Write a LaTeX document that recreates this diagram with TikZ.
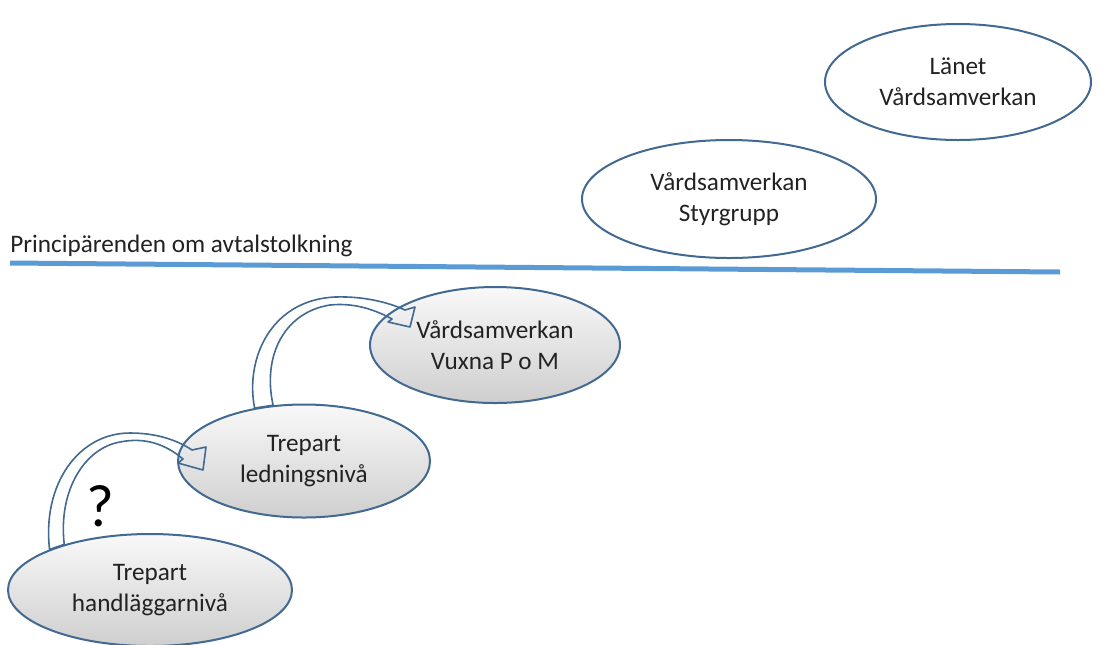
\documentclass[tikz,border=0pt]{standalone}
\usepackage{fontspec}
\setmainfont{Carlito}
\usetikzlibrary{shapes.geometric}
\definecolor{unitblue}{RGB}{65,105,145}
\definecolor{lineblue}{RGB}{91,155,213}
\definecolor{textgray}{RGB}{34,34,34}
\newcommand{\unitfont}{\fontsize{12.6}{15.5}\selectfont}
\tikzstyle{unit}=[ellipse, draw=unitblue, line width=1pt, inner sep=0, align=center,
                  text=textgray, font=\unitfont]
\tikzstyle{greyunit}=[unit, top color=gray!5, bottom color=gray!38]
\tikzstyle{bentarrow}=[draw=unitblue, line width=0.8pt, line join=round]
\tikzstyle{divider}=[draw=lineblue, line width=2.5pt]
\tikzstyle{levels}=[x=0.5pt, y=-0.5pt,
                    % pixel grid of the page
                    execute at begin picture={\useasboundingbox (0,0) rectangle (1119,644);}]
\begin{document}
\begin{tikzpicture}[levels]
        \node[unit, minimum width=133pt, minimum height=58pt] (lan) at (958,82) {Länet\\Vårdsamverkan};
        \node[unit, minimum width=147pt, minimum height=59pt] (styr) at (729,199) {Vårdsamverkan\\Styrgrupp};
        \node[greyunit, minimum width=125pt, minimum height=58pt] (vuxna) at (495,345) {Vårdsamverkan\\Vuxna P o M};
        \node[greyunit, minimum width=126pt, minimum height=56.5pt] (led) at (304,461) {Trepart\\ledningsnivå};
        \node[greyunit, minimum width=142pt, minimum height=56pt] (hand) at (150,590) {Trepart\\handläggarnivå};
        \coordinate (lstart) at (10,263);
        \coordinate (lend) at (1060,272);
        \draw[divider] (lstart) -- (lend);
        \node[anchor=base west, inner sep=0, text=textgray, font=\unitfont] (princip) at (10,252) {Principärenden om avtalstolkning};
        \node[inner sep=0, text=black, font=\fontsize{30}{30}\selectfont] (fraga) at (100,506) {?};
        % hand -> led
        \draw[bentarrow] (hand.158) .. controls (42,485) and (78,433) .. (130,433)
            .. controls (160,433) and (180,442) .. (192,450)
            -- (206,447) -- (203,470) -- (178,463) -- (183,459)
            .. controls (165,444) and (145,437) .. (120,442)
            .. controls (85,448) and (58,490) .. (hand.152) -- cycle;
        % led -> vuxna
        \draw[bentarrow] (led.133) .. controls (245,360) and (270,300) .. (335,297)
            .. controls (365,296) and (390,303) .. (405,310)
            -- (415,307) -- (410,327) -- (388,322) -- (392,319)
            .. controls (370,307) and (350,303) .. (330,305)
            .. controls (285,312) and (262,355) .. (led.119) -- cycle;
    \end{tikzpicture}
\end{document}
